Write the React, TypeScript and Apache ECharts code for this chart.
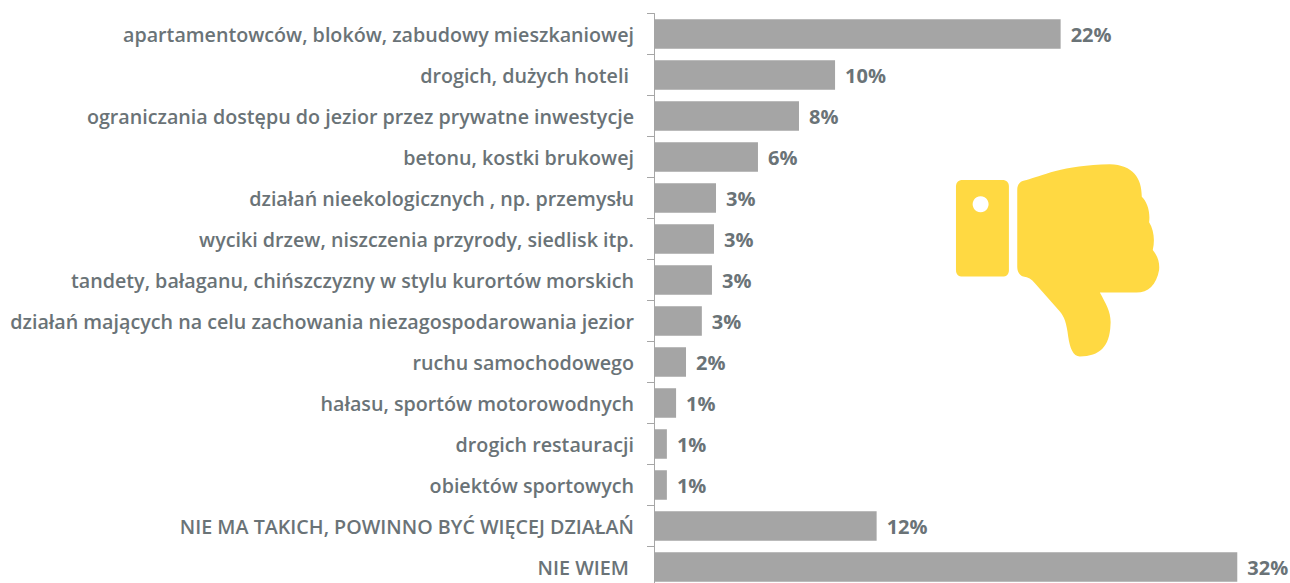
import React, { useEffect, useRef } from "react";
import * as echarts from "echarts";

const categories = [
  "apartamentowców, bloków, zabudowy mieszkaniowej",
  "drogich, dużych hoteli ",
  "ograniczania dostępu do jezior przez prywatne inwestycje",
  "betonu, kostki brukowej",
  "działań nieekologicznych , np. przemysłu",
  "wyciki drzew, niszczenia przyrody, siedlisk itp.",
  "tandety, bałaganu, chińszczyzny w stylu kurortów morskich",
  "działań mających na celu zachowania niezagospodarowania jezior",
  "ruchu samochodowego",
  "hałasu, sportów motorowodnych",
  "drogich restauracji",
  "obiektów sportowych",
  "NIE MA TAKICH, POWINNO BYĆ WIĘCEJ DZIAŁAŃ",
  "NIE WIEM ",
];
const values = [22.1, 9.84, 7.88, 5.65, 3.37, 3.26, 3.15, 2.6, 1.74, 1.2, 0.7, 0.7, 12.1, 31.7];

const thumbPath =
  "M262 90 C262 72 272 62 290 60 C330 50 400 15 540 13 C610 15 636 55 636 110 C652 125 662 155 658 187 C672 210 676 240 669 270 C685 290 690 310 688 330 C680 375 655 398 620 398 L510 398 C530 435 545 460 542 495 C540 560 510 590 450 590 C430 590 420 565 415 530 C410 490 403 470 390 455 L315 370 C305 358 295 352 280 350 C268 346 262 335 262 320 Z";
const cuffPath =
  "M98 60 L217 60 C230 60 237 67 237 80 L237 330 C237 343 230 350 217 350 L98 350 C85 350 78 343 78 330 L78 80 C78 67 85 60 98 60 Z";

echarts.graphic.registerShape("thumbHand", echarts.graphic.extendPath(thumbPath, {}));
echarts.graphic.registerShape("thumbCuff", echarts.graphic.extendPath(cuffPath, {}));

const FONT = "'Open Sans', sans-serif";
const TEXT = "#6a7377";

export default function App() {
  const ref = useRef<HTMLDivElement>(null);
  useEffect(() => {
    const chart = echarts.init(ref.current!, undefined, { renderer: "svg" });
    chart.setOption({
      animation: false,
      grid: { left: 654, top: 13.5, width: 644, height: 574 },
      xAxis: { type: "value", min: 0, max: 35, show: false },
      yAxis: {
        type: "category",
        inverse: true,
        data: categories,
        axisLine: { show: true, lineStyle: { color: "#a6a6a6", width: 1 } },
        axisTick: { show: true, length: 7, lineStyle: { color: "#a6a6a6", width: 1 } },
        axisLabel: {
          margin: 20,
          color: TEXT,
          fontFamily: FONT,
          fontWeight: 600,
          fontSize: 19.7,
          align: "right",
        },
      },
      series: [
        {
          type: "bar",
          data: values,
          barCategoryGap: "28%",
          itemStyle: { color: "#a5a5a5" },
          label: {
            show: true,
            position: "right",
            distance: 10,
            color: TEXT,
            fontFamily: FONT,
            fontWeight: 700,
            fontSize: 20,
            formatter: (p: any) => `${Math.round(p.value)}%`,
          },
        },
      ],
      graphic: [
        {
          type: "group",
          x: 930,
          y: 160,
          scaleX: 1 / 3,
          scaleY: 1 / 3,
          children: [
            { type: "thumbCuff", style: { fill: "#ffd942" } },
            { type: "thumbHand", style: { fill: "#ffd942" } },
            { type: "circle", shape: { cx: 152, cy: 133, r: 24 }, style: { fill: "#ffffff" } },
          ],
        },
      ],
    });
    return () => chart.dispose();
  }, []);
  return (
    <div
      ref={ref}
      style={{ position: "fixed", left: 0, top: 0, width: 1320, height: 600, background: "#fff" }}
    />
  );
}
